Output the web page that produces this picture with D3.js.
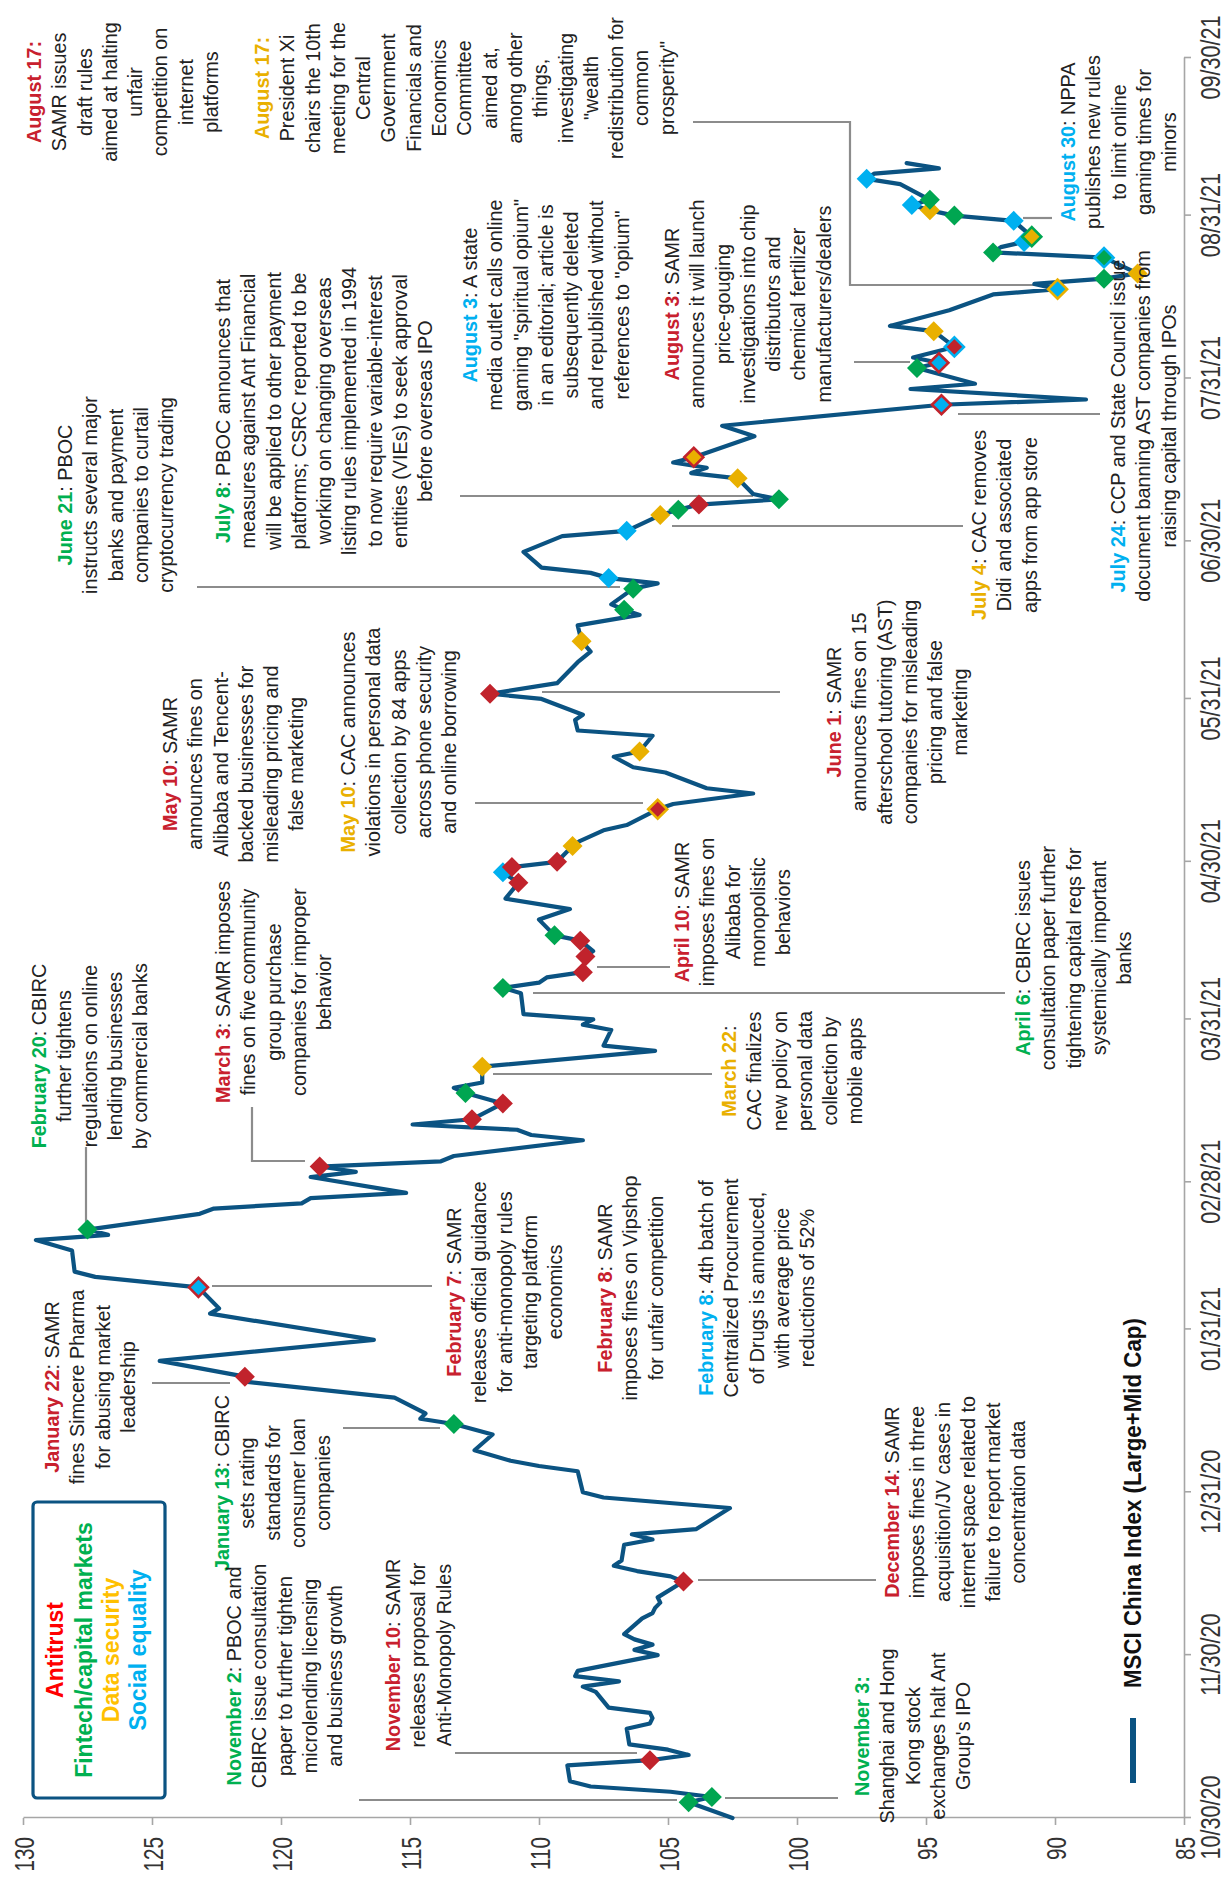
<!DOCTYPE html>
<html><head><meta charset="utf-8">
<script src="https://cdn.jsdelivr.net/npm/d3@7"></script>
<style>
body{margin:0;background:#fff}
svg{display:block}
text{font-family:"Liberation Sans",Arial,Helvetica,sans-serif}
</style>
</head><body>
<svg id="chart" width="1228" height="1877"></svg>
<script>
// ---------------- DATA ----------------
const SERIES_NAME = "MSCI China Index (Large+Mid Cap)";
const SERIES_DATES = [
"2020-10-30","2020-11-02","2020-11-03","2020-11-04","2020-11-05","2020-11-06","2020-11-09","2020-11-10","2020-11-11","2020-11-12","2020-11-13","2020-11-16","2020-11-17","2020-11-18","2020-11-19","2020-11-20","2020-11-23","2020-11-24","2020-11-25","2020-11-26","2020-11-27","2020-11-30",
"2020-12-01","2020-12-02","2020-12-03","2020-12-04","2020-12-07","2020-12-08","2020-12-09","2020-12-10","2020-12-11","2020-12-14","2020-12-15","2020-12-16","2020-12-17","2020-12-18","2020-12-21","2020-12-22","2020-12-23","2020-12-24","2020-12-28","2020-12-30","2020-12-31",
"2021-01-04","2021-01-05","2021-01-06","2021-01-08","2021-01-11","2021-01-13","2021-01-14","2021-01-15","2021-01-18","2021-01-21","2021-01-22","2021-01-25","2021-01-29",
"2021-02-03","2021-02-04","2021-02-08","2021-02-10","2021-02-11","2021-02-15","2021-02-17","2021-02-18","2021-02-19","2021-02-22","2021-02-23","2021-02-24","2021-02-25","2021-02-26",
"2021-03-01","2021-03-02","2021-03-03","2021-03-04","2021-03-05","2021-03-08","2021-03-09","2021-03-10","2021-03-11","2021-03-12","2021-03-15","2021-03-17","2021-03-18","2021-03-19","2021-03-22","2021-03-25","2021-03-26","2021-03-29","2021-03-30","2021-03-31",
"2021-04-01","2021-04-05","2021-04-06","2021-04-07","2021-04-08","2021-04-09","2021-04-12","2021-04-13","2021-04-15","2021-04-16","2021-04-19","2021-04-21","2021-04-23","2021-04-26","2021-04-28","2021-04-29","2021-04-30",
"2021-05-03","2021-05-04","2021-05-06","2021-05-07","2021-05-10","2021-05-11","2021-05-13","2021-05-14","2021-05-17","2021-05-18","2021-05-20","2021-05-21","2021-05-24","2021-05-25","2021-05-27","2021-05-28","2021-05-31",
"2021-06-01","2021-06-03","2021-06-07","2021-06-09","2021-06-11","2021-06-14","2021-06-16","2021-06-17","2021-06-18","2021-06-21","2021-06-22","2021-06-23","2021-06-24","2021-06-25","2021-06-28",
"2021-07-01","2021-07-02","2021-07-05","2021-07-06","2021-07-07","2021-07-08","2021-07-09","2021-07-12","2021-07-13","2021-07-14","2021-07-15","2021-07-16","2021-07-20","2021-07-22","2021-07-26","2021-07-27","2021-07-29","2021-07-30",
"2021-08-02","2021-08-03","2021-08-04","2021-08-06","2021-08-09","2021-08-10","2021-08-13","2021-08-16","2021-08-17","2021-08-18","2021-08-19","2021-08-20","2021-08-23","2021-08-24","2021-08-25","2021-08-26","2021-08-27","2021-08-30","2021-08-31",
"2021-09-01","2021-09-02","2021-09-03","2021-09-06","2021-09-07","2021-09-08","2021-09-09","2021-09-10"
];
const SERIES_VALUES = [
102.5,104.2,103.3,104.9,108.0,108.8,108.9,105.7,104.2,105.0,106.5,106.6,105.7,105.6,105.7,107.3,107.8,108.3,106.9,108.6,108.5,105.4,
106.3,105.6,106.3,106.7,106.0,105.6,105.5,105.3,105.4,104.4,104.9,106.2,107.1,106.8,106.7,105.6,106.4,103.9,102.6,107.5,108.3,
108.5,110.0,111.1,112.5,111.8,113.3,114.6,114.4,115.6,121.3,121.4,124.7,116.4,
122.75,122.4,123.2,127.2,128.0,128.1,129.5,126.7,127.5,123.15,122.6,119.2,118.85,115.15,
118.85,117.1,118.5,113.8,113.3,108.3,110.3,110.85,114.9,112.6,111.4,112.85,113.3,112.2,112.2,105.5,107.5,107.2,108.3,107.9,
110.6,110.7,111.4,110.0,109.7,108.3,108.2,107.9,108.4,109.4,110.0,108.8,111.3,110.8,111.4,111.05,109.3,
108.7,108.4,107.5,106.6,105.4,104.8,101.7,103.5,105.1,106.35,107.1,106.1,105.6,108.5,108.6,108.3,109.9,
111.9,109.3,108.5,108.0,108.35,108.5,106.1,106.7,107.2,106.35,105.4,107.3,108.0,109.9,110.6,
109.1,106.6,105.3,104.6,103.8,100.7,101.7,102.3,104.1,103.5,104.8,104.0,101.65,102.9,94.4,88.8,95.6,93.1,
95.35,94.5,95.5,93.9,94.7,96.4,94.1,92.4,89.9,90.8,88.1,86.8,88.1,92.4,92.1,91.2,90.9,91.6,93.9,
94.85,95.55,94.85,96.0,97.3,97.0,94.5,95.75
];
const VALUE_TICKS = [130,125,120,115,110,105,100,95,90,85];
const DATE_TICKS = ["2020-10-30","2020-11-30","2020-12-31","2021-01-31","2021-02-28","2021-03-31","2021-04-30","2021-05-31","2021-06-30","2021-07-31","2021-08-31","2021-09-30"];

const CATEGORIES = ["A","F","D","S"];
const CATEGORY_NAMES = ["Antitrust","Fintech/capital markets","Data security","Social equality"];

// policy event markers: date, main category, (optional) second category shown as outline
const MARK_DATES = ["2020-11-02","2020-11-03","2020-11-10","2020-12-14","2021-01-13","2021-01-22","2021-02-08","2021-02-19","2021-03-03","2021-03-12","2021-03-15","2021-03-17","2021-03-22","2021-04-06","2021-04-09","2021-04-12","2021-04-15","2021-04-16","2021-04-26","2021-04-28","2021-04-29","2021-04-30","2021-05-03","2021-05-10","2021-05-21","2021-06-01","2021-06-11","2021-06-17","2021-06-21","2021-06-23","2021-07-02","2021-07-05","2021-07-06","2021-07-07","2021-07-08","2021-07-12","2021-07-16","2021-07-26","2021-08-02","2021-08-03","2021-08-06","2021-08-09","2021-08-17","2021-08-19","2021-08-20","2021-08-23","2021-08-24","2021-08-26","2021-08-27","2021-08-30","2021-08-31","2021-09-01","2021-09-02","2021-09-03","2021-09-07"];
const MARK_CATS = ["F","F","A","A","F","A","S","F","A","A","A","F","D","F","A","A","A","F","A","S","A","A","D","A","D","A","D","F","F","S","S","D","F","A","F","D","D","S","F","S","A","D","S","F","D","F","F","S","D","S","F","D","S","F","S"];
const MARK_SECOND = {"2021-02-08":"A","2021-05-10":"D","2021-07-16":"A","2021-07-26":"A","2021-08-03":"A","2021-08-06":"S","2021-08-17":"D","2021-08-23":"S","2021-08-27":"F"};

// annotation texts
const NOTES = [
 {id:"A",cat:"A",label:"August 17:",lines:["","SAMR issues","draft rules","aimed at halting","unfair","competition on","internet","platforms"]},
 {id:"B",cat:"D",label:"August 17:",lines:["","President Xi","chairs the 10th","meeting for the","Central","Government","Financials and","Economics","Committee","aimed at,","among other","things,","investigating","\"wealth","redistribution for","common","prosperity\""]},
 {id:"C",cat:"F",label:"June 21",lines:[": PBOC","instructs several major","banks and payment","companies to curtail","cryptocurrency trading"]},
 {id:"D",cat:"F",label:"July 8",lines:[": PBOC announces that","measures against Ant Financial","will be applied to other payment","platforms; CSRC reported to be","working on changing overseas","listing rules implemented in 1994","to now require variable-interest","entities (VIEs) to seek approval","before overseas IPO"]},
 {id:"E",cat:"S",label:"August 3",lines:[": A state","media outlet calls online","gaming \"spiritual opium\"","in an editorial; article is","subsequently deleted","and republished without","references to \"opium\""]},
 {id:"F",cat:"A",label:"August 3",lines:[": SAMR","announces it will launch","price-gouging","investigations into chip","distributors and","chemical fertilizer","manufacturers/dealers"]},
 {id:"G",cat:"D",label:"July 4",lines:[": CAC removes","Didi and associated","apps from app store"]},
 {id:"H",cat:"S",label:"July 24",lines:[": CCP and State Council issue","document banning AST companies from","raising capital through IPOs"]},
 {id:"I",cat:"S",label:"August 30",lines:[": NPPA","publishes new rules","to limit online","gaming times for","minors"]},
 {id:"J",cat:"A",label:"May 10",lines:[": SAMR","announces fines on","Alibaba and Tencent-","backed businesses for","misleading pricing and","false marketing"]},
 {id:"K",cat:"D",label:"May 10",lines:[": CAC announces","violations in personal data","collection by 84 apps","across phone security","and online borrowing"]},
 {id:"L",cat:"A",label:"June 1",lines:[": SAMR","announces fines on 15","afterschool tutoring (AST)","companies for misleading","pricing and false","marketing"]},
 {id:"M",cat:"A",label:"April 10",lines:[": SAMR","imposes fines on","Alibaba for","monopolistic","behaviors"]},
 {id:"N",cat:"F",label:"April 6",lines:[": CBIRC issues","consultation paper further","tightening capital reqs for","systemically important","banks"]},
 {id:"O",cat:"D",label:"March 22",lines:[":","CAC finalizes","new policy on","personal data","collection by","mobile apps"]},
 {id:"P",cat:"A",label:"March 3",lines:[": SAMR imposes","fines on five community","group purchase","companies for improper","behavior"]},
 {id:"Q",cat:"F",label:"February 20",lines:[": CBIRC","further tightens","regulations on online","lending businesses","by commercial banks"]},
 {id:"R",cat:"A",label:"January 22",lines:[": SAMR","fines Simcere Pharma","for abusing market","leadership"]},
 {id:"S",cat:"A",label:"February 7",lines:[": SAMR","releases official guidance","for anti-monopoly rules","targeting platform","economics"]},
 {id:"T",cat:"A",label:"February 8",lines:[": SAMR","imposes fines on Vipshop","for unfair competition"]},
 {id:"U",cat:"S",label:"February 8",lines:[": 4th batch of","Centralized Procurement","of Drugs is annouced,","with average price","reductions of 52%"]},
 {id:"V",cat:"F",label:"January 13",lines:[": CBIRC","sets rating","standards for","consumer loan","companies"]},
 {id:"W",cat:"F",label:"November 2",lines:[": PBOC and","CBIRC issue consultation","paper to further tighten","microlending licensing","and business growth"]},
 {id:"X",cat:"A",label:"November 10",lines:[": SAMR","releases proposal for","Anti-Monopoly Rules"]},
 {id:"Y",cat:"F",label:"November 3:",lines:["","Shanghai and Hong","Kong stock","exchanges halt Ant","Group's IPO"]},
 {id:"Z",cat:"A",label:"December 14",lines:[": SAMR","imposes fines in three","acquisition/JV cases in","internet space related to","failure to report market","concentration data"]}
];

// ---------------- LAYOUT / STYLE ----------------
const W = 1228, H = 1877;
const PLOT = {left:59, right:1819, top:23, bottom:1184};     // in the un-rotated frame
const STYLE = {
  line:"#0B5382", axis:"#A6A6A6", leader:"#8C8C8C", text:"#222222",
  mark:{A:"#C1232C",F:"#00A651",D:"#E9B000",S:"#00B0F0"},
  label:{A:"#C8202E",F:"#00B050",D:"#E9B000",S:"#00B0F0"},
  legend:{A:"#FF0000",F:"#00B050",D:"#FFC000",S:"#00B0F0"}
};
const FS = 19.8, LH = 25.3;
// text blocks: screen x of first line, screen y of block centre
const NOTE_POS = {
 A:{sx:34,sy:92}, B:{sx:262,sy:88}, C:{sx:65,sy:495}, D:{sx:223,sy:411}, E:{sx:470,sy:305},
 F:{sx:672,sy:304}, G:{sx:979,sy:525}, H:{sx:1118,sy:426}, I:{sx:1068,sy:142}, J:{sx:170,sy:764},
 K:{sx:348,sy:742}, L:{sx:834,sy:712}, M:{sx:682,sy:912}, N:{sx:1023,sy:958}, O:{sx:729,sy:1071},
 P:{sx:223,sy:992}, Q:{sx:39,sy:1056}, R:{sx:52,sy:1387}, S:{sx:454,sy:1292}, T:{sx:605,sy:1288},
 U:{sx:706,sy:1288}, V:{sx:222,sy:1483}, W:{sx:234,sy:1676}, X:{sx:393,sy:1655}, Y:{sx:862,sy:1736},
 Z:{sx:892,sy:1502}
};
// leader lines in screen coordinates
const LEADERS = [
 [[693,122],[850,122],[850,285],[1040,285]],
 [[197,587],[620,587]], [[460,496],[753,496]], [[854,362],[910,362]], [[672,526],[963,526]],
 [[958,414],[1100,414]], [[1023,218],[1052,218]], [[475,803],[643,803]], [[542,692],[780,692]],
 [[597,967],[670,967]], [[533,993],[1005,993]], [[493,1074],[712,1074]],
 [[252,1107],[252,1161],[305,1161]], [[86,1147],[86,1222]], [[152,1383],[230,1383]],
 [[212,1286],[432,1286]], [[343,1428],[440,1428]], [[359,1800],[677,1800]], [[455,1753],[637,1753]],
 [[725,1798],[838,1798]], [[698,1580],[876,1580]]
];

// ---------------- DRAW ----------------
const parse = d3.utcParse("%Y-%m-%d");
const svg = d3.select("#chart");
// chart is drawn in a landscape frame (1877 x 1228) and turned 90° counter-clockwise
const g = svg.append("g").attr("transform", `translate(0,${H}) rotate(-90)`);
const toInner = p => [H - p[1], p[0]];

const x = d3.scaleUtc().domain([parse(DATE_TICKS[0]), parse(DATE_TICKS[DATE_TICKS.length-1])]).range([PLOT.left, PLOT.right]);
const y = d3.scaleLinear().domain([85,130]).range([PLOT.bottom, PLOT.top]);

const series = SERIES_DATES.map((d,i)=>({date:parse(d), v:SERIES_VALUES[i]}));
const valueAt = new Map(SERIES_DATES.map((d,i)=>[d, SERIES_VALUES[i]]));

// value axis
const ya = g.append("g").attr("transform",`translate(${PLOT.left},0)`)
  .call(d3.axisLeft(y).tickValues(VALUE_TICKS).tickSize(7).tickSizeOuter(0).tickPadding(12).tickFormat(d3.format("d")));
ya.select(".domain").attr("stroke",STYLE.axis).attr("stroke-width",1.6);
ya.selectAll(".tick line").attr("stroke",STYLE.axis).attr("stroke-width",1.6);
ya.selectAll(".tick text").attr("x",0).attr("dy","0.36em").attr("transform","translate(-19,0) scale(0.74,1)")
  .attr("font-size",28).attr("fill","#333").attr("font-family",'"Liberation Sans",Arial,sans-serif');

// date axis
const xa = g.append("g").attr("transform",`translate(0,${PLOT.bottom})`)
  .call(d3.axisBottom(x).tickValues(DATE_TICKS.map(parse)).tickSize(7).tickSizeOuter(0).tickFormat(d3.utcFormat("%m/%d/%y")));
xa.select(".domain").attr("stroke",STYLE.axis).attr("stroke-width",1.6);
xa.selectAll(".tick line").attr("stroke",STYLE.axis).attr("stroke-width",1.6);
xa.selectAll(".tick text").attr("y",0).attr("dy","0.36em").attr("transform","translate(0,26) scale(0.8,1)")
  .attr("font-size",27).attr("fill","#333").attr("font-family",'"Liberation Sans",Arial,sans-serif');

// leader lines
const lineGen = d3.line();
g.append("g").selectAll("path").data(LEADERS).join("path")
  .attr("d", pts => lineGen(pts.map(toInner)))
  .attr("fill","none").attr("stroke",STYLE.leader).attr("stroke-width",2.2);

// index line
g.append("path").datum(series)
  .attr("d", d3.line().x(d=>x(d.date)).y(d=>y(d.v)))
  .attr("fill","none").attr("stroke",STYLE.line).attr("stroke-width",4.2)
  .attr("stroke-linejoin","round").attr("stroke-linecap","round");

// markers
const marks = MARK_DATES.map((d,i)=>({date:d, cat:MARK_CATS[i], second:MARK_SECOND[d], v:valueAt.get(d)}));
g.append("g").selectAll("path").data(marks).join("path")
  .attr("transform", d=>`translate(${x(parse(d.date))},${y(d.v)})`)
  .attr("d", d=> d.second ? "M0,-9.5L9.5,0L0,9.5L-9.5,0Z" : "M0,-10L10,0L0,10L-10,0Z")
  .attr("fill", d=>STYLE.mark[d.cat])
  .attr("stroke", d=> d.second ? STYLE.mark[d.second] : "none")
  .attr("stroke-width", 2.6);

// annotation text blocks
NOTES.forEach(n=>{
  const p = NOTE_POS[n.id];
  const cx = H - p.sy;
  n.lines.forEach((ln,i)=>{
    const t = g.append("text").attr("x",cx).attr("y",p.sx + i*LH).attr("dy","0.35em")
      .attr("text-anchor","middle").attr("font-size",FS).attr("fill",STYLE.text);
    if(i===0){
      t.append("tspan").attr("font-weight","bold").attr("fill",STYLE.label[n.cat]).text(n.label);
      if(ln) t.append("tspan").text(ln);
    } else t.text(ln);
  });
});

// category legend box
const lb = g.append("g");
lb.append("rect").attr("x",H-1798).attr("y",33).attr("width",296).attr("height",132).attr("rx",4)
  .attr("fill","none").attr("stroke",STYLE.line).attr("stroke-width",3.2);
const legendRows = [55,83.5,111,137.5];
CATEGORIES.forEach((c,i)=>{
  lb.append("text").attr("x",H-1650).attr("y",legendRows[i]).attr("dy","0.35em").attr("text-anchor","middle")
    .attr("font-size",23).attr("font-weight","bold").attr("fill",STYLE.legend[c]).text(CATEGORY_NAMES[i]);
});

// series legend
const sl = g.append("g");
sl.append("line").attr("x1",94).attr("x2",159).attr("y1",1133).attr("y2",1133)
  .attr("stroke",STYLE.line).attr("stroke-width",6);
sl.append("text").attr("transform","translate(189,1133) scale(0.93,1)").attr("dy","0.35em")
  .attr("font-size",24).attr("font-weight","bold").attr("fill","#111").text(SERIES_NAME);
</script>
</body></html>
